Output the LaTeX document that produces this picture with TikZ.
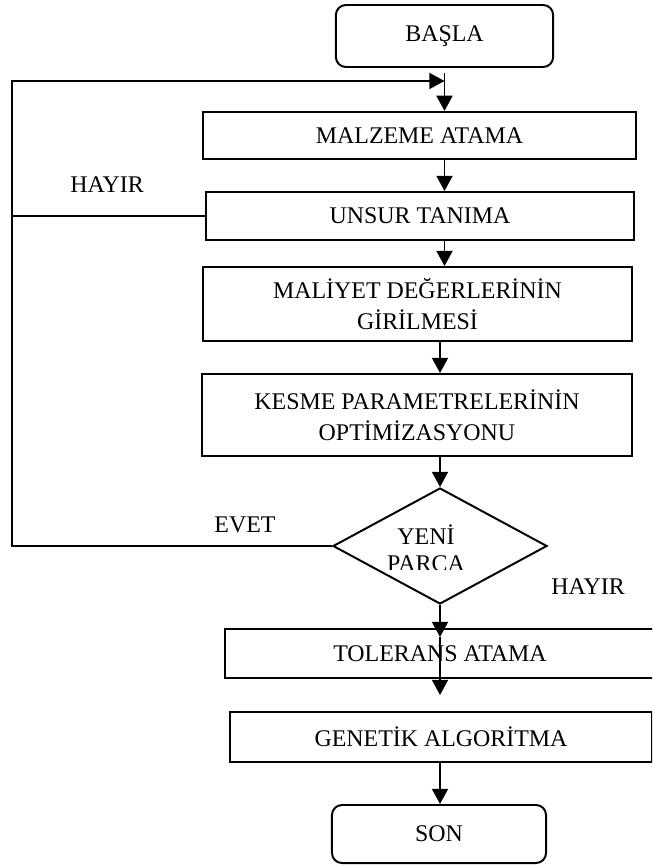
\documentclass[tikz,border=0pt]{standalone}
\usepackage{fontspec}
\setmainfont{Liberation Serif}
\usetikzlibrary{shapes.geometric,arrows.meta}

\begin{document}
\begin{tikzpicture}[x=0.025cm, y=-0.025cm, line width=1.4pt,
    every node/.style={font=\fontsize{17}{22}\selectfont, align=center},
    term/.style={draw, rectangle, rounded corners=0.25cm, inner sep=0pt},
    proc/.style={draw, rectangle, inner sep=0pt},
    dec/.style={draw, diamond, inner sep=0pt, minimum width=5.35cm, minimum height=2.9cm},
    arr/.style={-{Triangle[length=0.38cm,width=0.4cm]}}]

\useasboundingbox (0,0) rectangle (652,865);
\clip (0,0) rectangle (652,865);

%Top
\node[term, minimum width=5.43cm, minimum height=1.55cm] (basla) at (444.5,36) {BAŞLA};
\node[proc, minimum width=10.83cm, minimum height=1.18cm] (malz) at (419.5,135.5) {MALZEME ATAMA};
\node[proc, minimum width=10.7cm, minimum height=1.2cm] (unsur) at (420,216) {UNSUR TANIMA};
\node[proc, minimum width=10.73cm, minimum height=1.85cm] (maliyet) at (417.5,304) {MALİYET DEĞERLERİNİN\\GİRİLMESİ};
\node[proc, minimum width=10.75cm, minimum height=2.05cm] (kesme) at (417,415) {KESME PARAMETRELERİNİN\\OPTİMİZASYONU};

%Decision
\node[dec] (yeni) at (440,546) {};
\begin{scope}
\clip (330,500) rectangle (550,569);
\node[font=\fontsize{17}{19}\selectfont] (yenitxt) at (426,551) {YENİ\\PARÇA};
\end{scope}

%Bottom
\node[proc, minimum width=10.75cm, minimum height=1.23cm] (tol) at (440,653.5) {TOLERANS ATAMA};
\node[proc, minimum width=10.55cm, minimum height=1.25cm] (gen) at (441,737) {GENETİK ALGORİTMA};
\node[term, minimum width=5.35cm, minimum height=1.45cm] (son) at (439,834) {SON};

\node (hayirl) at (107,185) {HAYIR};
\node (evet) at (245,525) {EVET};
\node (hayirr) at (588,587) {HAYIR};

\coordinate (lp) at (12,81);
\coordinate (t1) at (440,637);
\coordinate (t2) at (440,695);

%Loop
\draw[arr] (yeni.west) -| (lp) -- (basla.south |- lp);
\draw (unsur.west) -- (unsur.west -| lp);

\draw[arr] ([yshift=-0.12cm]basla.south) -- (basla.south |- malz.north);
\draw[arr] (malz.south -| basla.south) -- (unsur.north -| basla.south);
\draw[arr] (unsur.south -| basla.south) -- (maliyet.north -| basla.south);
\draw[arr] (maliyet.south -| yeni.north) -- (kesme.north -| yeni.north);
\draw[arr] (kesme.south -| yeni.north) -- (yeni.north);
\draw[arr] (yeni.south) -- (t1);
\draw[arr] (t1) -- (t2);
\draw[arr] (gen.south -| yeni.south) -- (son.north -| yeni.south);
\end{tikzpicture}
\end{document}
